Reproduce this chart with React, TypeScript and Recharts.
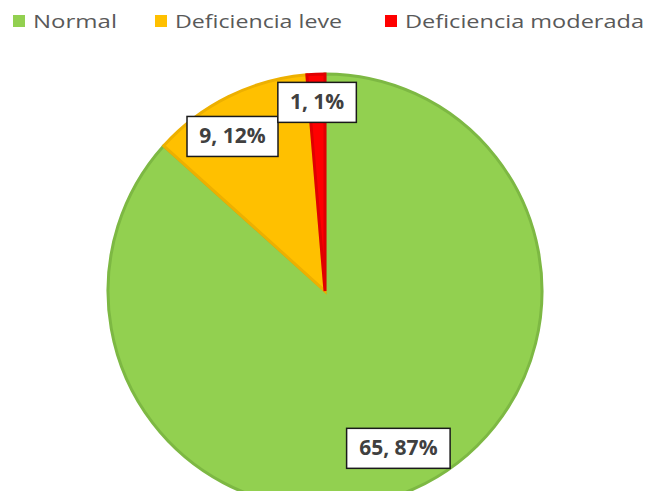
import { Cell, Legend, Pie, PieChart } from "recharts";

const categories = ["Normal", "Deficiencia leve", "Deficiencia moderada"];
const counts = [65, 9, 1];
const percents = [87, 12, 1];

const colors = ["#92D050", "#FFC000", "#FF0000"];
const strokes = ["#7DB843", "#EDB000", "#E00000"];

// where each label box sits along its slice's mid angle (fraction of radius, angle nudge in degrees)
const labelRadius = [0.8, 0.83, 0.87];
const labelAngleShift = [1, 4.5, 0];

// legend layout: square x and text width per item
const legendX = [13, 155, 385];
const legendTextWidth = [84, 167, 239];
const LEGEND_H = 40;

const data = categories.map((name, i) => ({
  name,
  value: counts[i],
  pct: percents[i],
}));

const RADIAN = Math.PI / 180;

const renderLabel = (props: any) => {
  const { cx, cy, midAngle, outerRadius, index } = props;
  const r = outerRadius * labelRadius[index];
  const a = (midAngle + labelAngleShift[index]) * RADIAN;
  const x = cx + r * Math.cos(-a);
  const y = cy + r * Math.sin(-a);
  const text = `${counts[index]}, ${percents[index]}%`;
  const w = text.length * 12.5 + 16;
  const h = 40;
  return (
    <g key={`label-${index}`}>
      <rect
        x={x - w / 2}
        y={y - h / 2}
        width={w}
        height={h}
        fill="#ffffff"
        stroke="#1a1a1a"
        strokeWidth={1.5}
      />
      <text
        x={x}
        y={y + 1}
        textAnchor="middle"
        dominantBaseline="middle"
        fontFamily="'Open Sans', sans-serif"
        fontWeight={700}
        fontSize={21}
        fill="#404040"
      >
        {text}
      </text>
    </g>
  );
};

const renderLegend = (props: any) => {
  const { payload } = props;
  return (
    <svg width={650} height={LEGEND_H} style={{ display: "block" }}>
      {(payload || []).map((entry: any) => {
        const i = categories.indexOf(entry.value);
        if (i < 0) return null;
        return (
          <g key={`legend-${i}`}>
            <rect x={legendX[i]} y={15} width={12} height={12} fill={colors[i]} />
            <text
              x={legendX[i] + 20}
              y={28}
              fontFamily="'Open Sans', sans-serif"
              fontSize={19}
              fill="#595959"
              textLength={legendTextWidth[i]}
              lengthAdjust="spacingAndGlyphs"
            >
              {entry.value}
            </text>
          </g>
        );
      })}
    </svg>
  );
};

const App = () => {
  return (
    <div
      style={{
        position: "absolute",
        left: 0,
        top: 0,
        width: 650,
        height: 491,
        overflow: "hidden",
        background: "#ffffff",
      }}
    >
      <PieChart width={650} height={491} margin={{ top: 0, right: 0, bottom: 0, left: 0 }}>
        <Legend
          content={renderLegend}
          verticalAlign="top"
          align="left"
          wrapperStyle={{ position: "absolute", left: 0, top: 0, width: 650 }}
        />
        <Pie
          data={data}
          dataKey="value"
          nameKey="name"
          cx={325}
          cy={291 - LEGEND_H}
          outerRadius={217}
          startAngle={90}
          endAngle={-270}
          label={renderLabel}
          labelLine={false}
          isAnimationActive={false}
        >
          {data.map((_, index) => (
            <Cell
              key={`cell-${index}`}
              fill={colors[index]}
              stroke={strokes[index]}
              strokeWidth={3}
            />
          ))}
        </Pie>
      </PieChart>
    </div>
  );
};

export default App;
